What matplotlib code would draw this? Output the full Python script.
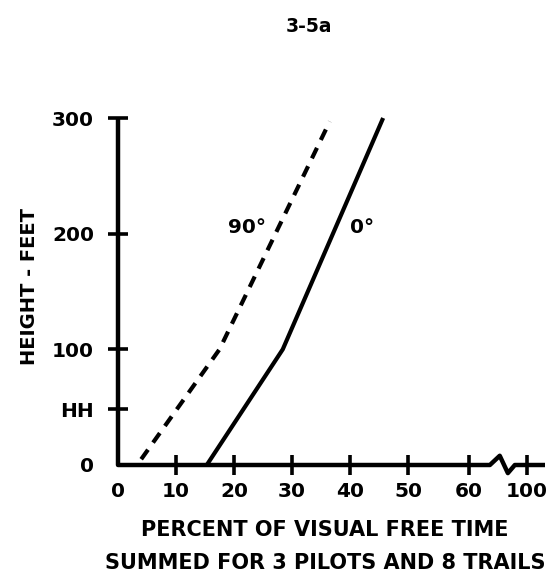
import matplotlib
matplotlib.use('Agg')
import matplotlib.pyplot as plt

# ---- data ----
title = "3-5a"
x_major_pos = [10, 20, 30, 40, 50, 60.5, 70.5]
x_major_labels = ['10', '20', '30', '40', '50', '60', '100']
y_major_pos = [48, 100, 200, 300]
y_major_labels = ['HH', '100', '200', '300']

pct_90 = [4.0, 17.5, 36.5]
hgt_90 = [5, 100, 297]
pct_0 = [15.3, 28.4, 45.7]
hgt_0 = [0, 100, 300]

# axis frame with scale break between 60 and 100
frame_x = [0, 0, 64.1, 65.8, 67.2, 68.4, 73.6]
frame_y = [300, 0, 0, 8, -7, 0, 0]

plt.rcParams['font.family'] = ['DejaVu Sans']
plt.rcParams['font.weight'] = 'bold'

fig = plt.figure(figsize=(5.57, 5.81), dpi=100)
L, R = 118 / 557, 545 / 557
B, T = 1 - 465 / 581, 1 - 118 / 581
ax = fig.add_axes([L, B, R - L, T - B])
ax.set_xlim(0, 73.6)
ax.set_ylim(0, 300)
for s in ax.spines.values():
    s.set_visible(False)

ax.plot(frame_x, frame_y, color='black', lw=3.2, clip_on=False,
        solid_joinstyle='round', solid_capstyle='butt')

ax.plot(pct_0, hgt_0, color='black', lw=3.0, solid_joinstyle='miter',
        solid_capstyle='butt', clip_on=False)
ax.plot(pct_90, hgt_90, color='black', lw=3.0, linestyle=(0, (2.8, 2.1)),
        dash_capstyle='butt', clip_on=False)

ax.text(22.2, 205, '90°', fontsize=14.5, fontweight='bold', ha='center', va='center')
ax.text(42.0, 205, '0°', fontsize=14.5, fontweight='bold', ha='center', va='center')

# ticks
ax.set_xticks(x_major_pos)
ax.set_xticklabels(x_major_labels)
ax.set_xticks([0], minor=True)
ax.set_xticklabels(['0'], minor=True)
ax.set_yticks(y_major_pos)
ax.set_yticklabels(y_major_labels)
ax.set_yticks([0], minor=True)
ax.set_yticklabels(['0'], minor=True)

ax.tick_params(axis='x', which='major', direction='inout', length=14.4, width=2.6,
               pad=5, labelsize=14.5)
ax.tick_params(axis='x', which='minor', direction='in', length=0, width=0,
               pad=12.2, labelsize=14.5)
ax.tick_params(axis='y', which='major', direction='inout', length=14.4, width=2.6,
               pad=10, labelsize=14.5)
ax.tick_params(axis='y', which='minor', direction='in', length=0, width=0,
               pad=17.2, labelsize=14.5)
for lab in ax.get_xticklabels(which='both') + ax.get_yticklabels(which='both'):
    lab.set_fontweight('bold')

fig.text(309 / 557, 1 - 27 / 581, title, fontsize=13.5, fontweight='bold',
         ha='center', va='center')
fig.text(325 / 557, 1 - 530 / 581, 'PERCENT OF VISUAL FREE TIME', fontsize=15,
         fontweight='bold', ha='center', va='center')
fig.text(325 / 557, 1 - 563 / 581, 'SUMMED FOR 3 PILOTS AND 8 TRAILS', fontsize=15,
         fontweight='bold', ha='center', va='center')
fig.text(30 / 557, 1 - 286 / 581, 'HEIGHT - FEET', fontsize=14, fontweight='bold',
         rotation=90, ha='center', va='center')

fig.savefig('out.png', dpi=100)
